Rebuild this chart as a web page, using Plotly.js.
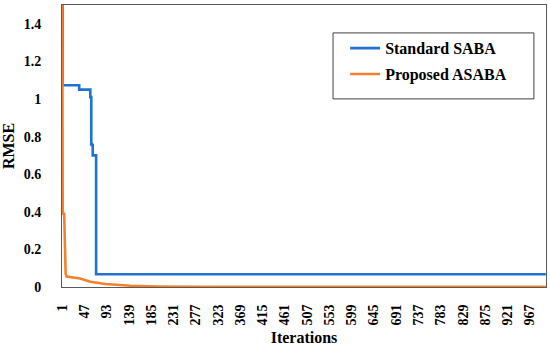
<!DOCTYPE html>
<html><head><meta charset="utf-8">
<script src="https://cdn.plot.ly/plotly-3.0.1.min.js"></script>
<style>html,body{margin:0;padding:0;background:#fff}#c{width:550px;height:349px}</style>
</head><body><div id="c"></div>
<script>
// Standard SABA (step changes: iteration, RMSE)
const sabaIter = [1, 2, 36, 59, 61, 62, 64, 71, 1000];
const sabaRmse = [1.62, 1.073, 1.05, 1.01, 0.76, 0.755, 0.70, 0.068, 0.068];
// Proposed ASABA (iteration, RMSE)
const asabaIter = [1, 2, 5, 6, 7, 8, 10, 25, 38, 59, 90, 142, 197, 300, 500, 1000];
const asabaRmse = [1.7, 0.39, 0.39, 0.2, 0.127, 0.07, 0.055, 0.05, 0.045, 0.028, 0.016, 0.007, 0.003, 0.0012, 0.0008, 0.0005];
const xTicks = [1,47,93,139,185,231,277,323,369,415,461,507,553,599,645,691,737,783,829,875,921,967];
const yTicks = [0,0.2,0.4,0.6,0.8,1,1.2,1.4];
const names = ['Standard SABA','Proposed ASABA'];
const colors = ['#1f72d0','#f7812b'];

const fam = 'Liberation Serif';
const traces = [
  {x: sabaIter, y: sabaRmse, name: names[0], mode:'lines', line:{color:colors[0], width:2.6, shape:'hv'}, legendgroup:'a'},
  {x: asabaIter, y: asabaRmse, name: names[1], mode:'lines', line:{color:colors[1], width:2.6}, legendgroup:'b'}
];
const layout = {
  width:550, height:349,
  margin:{l:62, r:4, t:5, b:62},
  paper_bgcolor:'#fff', plot_bgcolor:'#fff',
  font:{family:fam, color:'#000', size:14},
  showlegend:true,
  legend:{x:0.585, y:0.907, xanchor:'left', yanchor:'top', borderwidth:0,
          bgcolor:'rgba(0,0,0,0)', font:{family:fam, size:16, weight:'bold'}, tracegroupgap:2, traceorder:'grouped'},
  shapes:[{type:'rect', xref:'paper', yref:'paper', x0:0.56, x1:0.975, y0:0.667, y1:0.901,
           line:{color:'#404040', width:1}, fillcolor:'rgba(0,0,0,0)', layer:'below'}],
  xaxis:{range:[0.5,1000.5], tickmode:'array', tickvals:xTicks, ticktext:xTicks.map(String),
         tickangle:-90, ticks:'', showgrid:false, zeroline:false, showline:true, mirror:true,
         linecolor:'#595959', linewidth:1, tickfont:{family:fam, size:14, weight:'bold'},
         ticklabelstandoff:11,
         title:{text:'Iterations', font:{family:fam, size:16, weight:'bold'}, standoff:7}},
  yaxis:{range:[0,1.5], tickmode:'array', tickvals:yTicks, ticktext:yTicks.map(String),
         ticks:'', showgrid:false, zeroline:false, showline:true, mirror:true,
         linecolor:'#595959', linewidth:1, tickfont:{family:fam, size:14, weight:'bold'},
         ticklabelstandoff:17,
         title:{text:'RMSE', font:{family:fam, size:16, weight:'bold'}, standoff:8}}
};
Plotly.newPlot('c', traces, layout, {displayModeBar:false, staticPlot:true});
</script></body></html>
